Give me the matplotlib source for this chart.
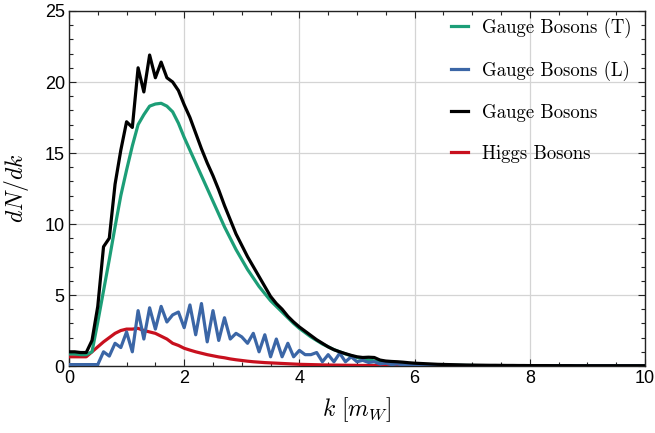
import matplotlib
matplotlib.use('Agg')

import numpy as np
import matplotlib.pyplot as plt
from matplotlib.ticker import MultipleLocator

plt.rcParams['mathtext.fontset'] = 'cm'
plt.rcParams['font.family'] = ['Liberation Sans', 'DejaVu Sans']

# momentum grid, step 0.1 from 0 to 10
k = np.round(np.arange(0, 10.01, 0.1), 1)

transverse = [0.85, 0.85, 0.8, 0.8, 1.0, 3.1, 5.3, 7.5, 9.8, 12.0,
              13.8, 15.5, 17.0, 17.7, 18.3, 18.45, 18.5, 18.3, 17.9, 17.1,
              16.1, 15.2, 14.3, 13.4, 12.5, 11.6, 10.7, 9.8, 9.0, 8.2,
              7.5, 6.8, 6.2, 5.6, 5.1, 4.6, 4.2, 3.8, 3.4, 3.0,
              2.65, 2.35, 2.05, 1.8, 1.55, 1.35, 1.15, 1.0, 0.85, 0.72,
              0.6, 0.5, 0.43, 0.36, 0.3, 0.25, 0.21, 0.18, 0.15, 0.13,
              0.11, 0.1, 0.09, 0.08, 0.07, 0.06, 0.055, 0.05, 0.045, 0.04,
              0.035, 0.03, 0.03, 0.025, 0.025, 0.02, 0.02, 0.02, 0.015, 0.015,
              0.015, 0.01, 0.01, 0.01, 0.01, 0.01, 0.01, 0.01, 0.01, 0.01,
              0.01, 0.01, 0.01, 0.01, 0.01, 0.01, 0.01, 0.01, 0.01, 0.01, 0.01]

longitudinal = [0.1, 0.1, 0.1, 0.1, 0.1, 0.1, 1.0, 0.7, 1.6, 1.3,
                2.4, 1.0, 3.9, 1.9, 4.1, 2.6, 4.2, 3.1, 3.6, 3.8,
                2.7, 4.3, 2.2, 4.4, 1.7, 3.9, 1.8, 3.4, 1.9, 2.3,
                2.05, 1.6, 2.3, 1.0, 2.2, 0.65, 1.9, 0.65, 1.6, 0.65,
                1.1, 0.8, 0.8, 0.95, 0.3, 0.8, 0.3, 0.9, 0.3, 0.65,
                0.3, 0.4, 0.25, 0.3, 0.15, 0.2, 0.1, 0.15, 0.08, 0.1,
                0.05, 0.06, 0.04, 0.05, 0.03, 0.04, 0.03, 0.03, 0.02, 0.03,
                0.02, 0.02, 0.02, 0.02, 0.02, 0.02, 0.01, 0.02, 0.01, 0.01,
                0.01, 0.01, 0.01, 0.01, 0.01, 0.01, 0.01, 0.01, 0.01, 0.01,
                0.01, 0.01, 0.01, 0.01, 0.01, 0.01, 0.01, 0.01, 0.01, 0.01, 0.01]

total = [1.0, 1.0, 0.95, 0.95, 1.8, 4.2, 8.4, 9.0, 12.8, 15.2,
         17.2, 16.8, 21.0, 19.3, 21.9, 20.3, 21.4, 20.3, 20.0, 19.4,
         18.4, 17.5, 16.4, 15.3, 14.3, 13.4, 12.4, 11.3, 10.3, 9.3,
         8.5, 7.7, 7.0, 6.3, 5.6, 4.9, 4.4, 4.0, 3.5, 3.1,
         2.75, 2.45, 2.15, 1.85, 1.6, 1.35, 1.15, 1.0, 0.87, 0.75,
         0.65, 0.6, 0.62, 0.6, 0.42, 0.35, 0.32, 0.3, 0.27, 0.23,
         0.2, 0.18, 0.16, 0.14, 0.12, 0.11, 0.1, 0.09, 0.08, 0.07,
         0.065, 0.06, 0.055, 0.05, 0.05, 0.045, 0.04, 0.04, 0.035, 0.035,
         0.03, 0.03, 0.03, 0.03, 0.025, 0.025, 0.025, 0.025, 0.02, 0.02,
         0.02, 0.02, 0.02, 0.02, 0.02, 0.02, 0.02, 0.02, 0.02, 0.02, 0.02]

higgs = [0.65, 0.65, 0.65, 0.65, 1.0, 1.35, 1.7, 2.0, 2.3, 2.5,
         2.6, 2.6, 2.65, 2.5, 2.4, 2.3, 2.1, 1.9, 1.6, 1.45,
         1.25, 1.12, 1.0, 0.9, 0.8, 0.72, 0.64, 0.58, 0.5, 0.44,
         0.39, 0.34, 0.3, 0.27, 0.24, 0.22, 0.2, 0.18, 0.16, 0.14,
         0.12, 0.11, 0.1, 0.09, 0.08, 0.07, 0.065, 0.06, 0.055, 0.05,
         0.045, 0.04, 0.04, 0.035, 0.035, 0.03, 0.03, 0.03, 0.025, 0.025,
         0.025, 0.02, 0.02, 0.02, 0.02, 0.02, 0.02, 0.02, 0.02, 0.02,
         0.02, 0.02, 0.02, 0.02, 0.02, 0.02, 0.02, 0.02, 0.02, 0.02,
         0.02, 0.02, 0.02, 0.02, 0.02, 0.02, 0.02, 0.02, 0.02, 0.02,
         0.02, 0.02, 0.02, 0.02, 0.02, 0.02, 0.02, 0.02, 0.02, 0.02, 0.02]

labels = ['Gauge Bosons (T)', 'Gauge Bosons (L)', 'Gauge Bosons', 'Higgs Bosons']
colors = ['#1c9e77', '#3b66a6', '#000000', '#c8101e']

fig = plt.figure(figsize=(6.55, 4.33), dpi=100)
ax = fig.add_axes([0.1053, 0.1547, 0.8794, 0.8199])

lw = 2.3
ax.plot(k, higgs, color=colors[3], lw=lw, zorder=3)
ax.plot(k, transverse, color=colors[0], lw=lw, label=labels[0], zorder=4)
ax.plot(k, longitudinal, color=colors[1], lw=lw, label=labels[1], zorder=4)
ax.plot(k, total, color=colors[2], lw=lw, label=labels[2], zorder=5)
# dummy handle so the legend order matches
ax.plot([], [], color=colors[3], lw=lw, label=labels[3])

ax.set_xlim(0, 10)
ax.set_ylim(0, 25)
ax.xaxis.set_major_locator(MultipleLocator(2))
ax.xaxis.set_minor_locator(MultipleLocator(0.5))
ax.yaxis.set_major_locator(MultipleLocator(5))
ax.yaxis.set_minor_locator(MultipleLocator(1))
ax.grid(True, which='major', color='#d4d4d4', lw=0.9)
ax.set_axisbelow(True)

ax.tick_params(which='both', direction='in', top=True, right=True,
               labelsize=13, pad=3, colors='#222222', labelcolor='black')
ax.tick_params(which='major', length=5, width=0.8)
ax.tick_params(which='minor', length=3, width=0.8)
for s in ax.spines.values():
    s.set_color('#222222')
    s.set_linewidth(1.0)

ax.set_xlabel(r'$k\ [m_W]$', fontsize=17, labelpad=6)
ax.set_ylabel(r'$dN/dk$', fontsize=17, labelpad=10)

ax.legend(loc='upper right', bbox_to_anchor=(1.0, 1.018), frameon=False,
          handlelength=0.9, handletextpad=0.75, labelspacing=1.22,
          borderaxespad=0.3, prop={'family': 'cmr10', 'size': 13.5})

fig.savefig('out.png', dpi=100)
